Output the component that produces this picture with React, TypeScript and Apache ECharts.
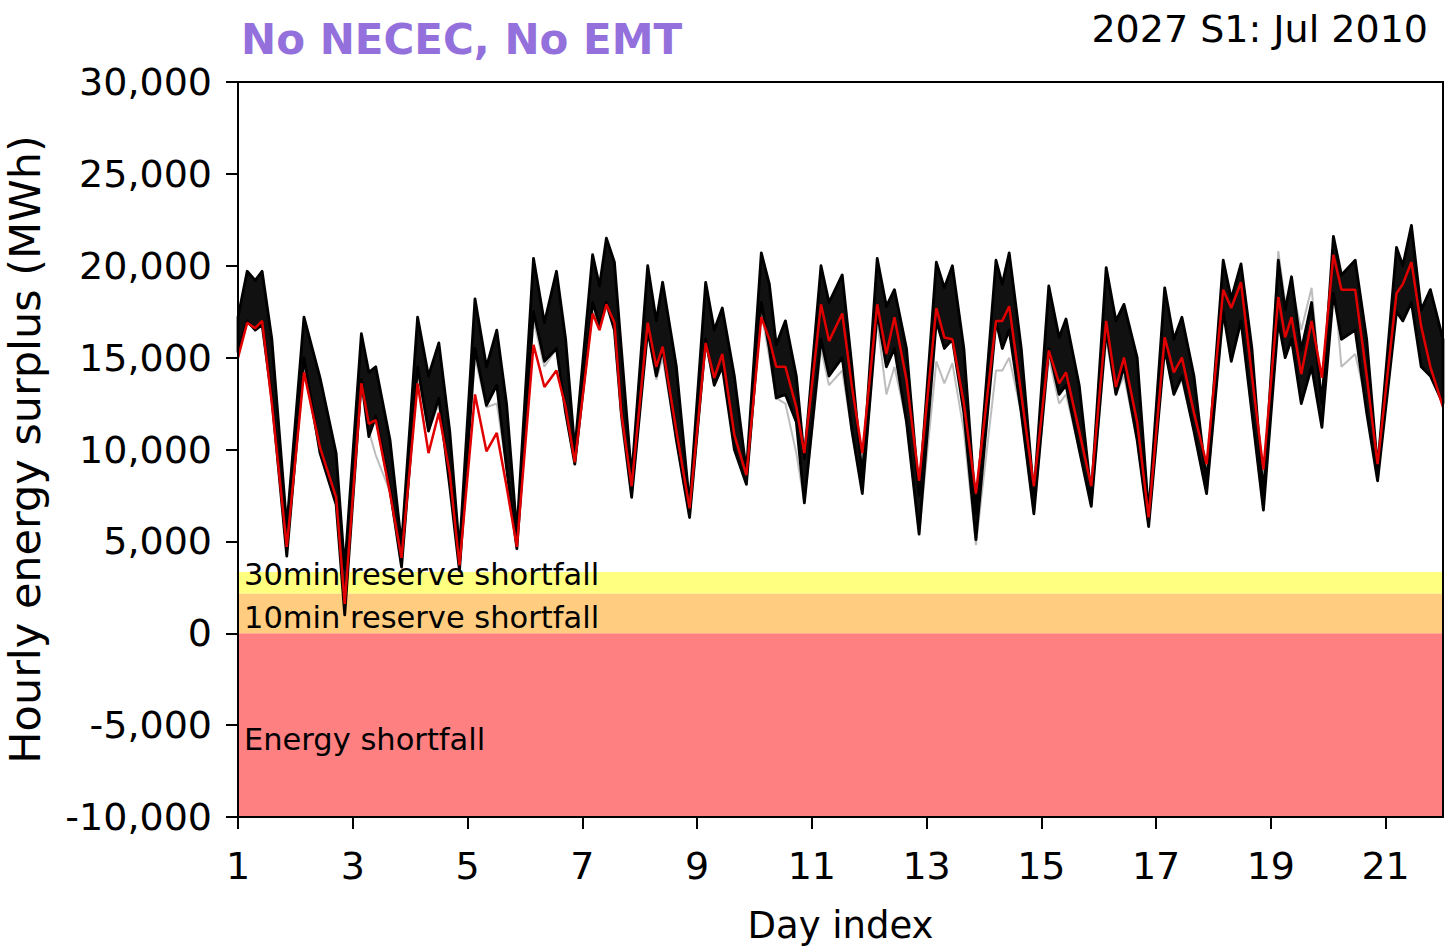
import React, { useEffect, useRef } from "react";
import * as echarts from "echarts";

// Day index positions of the read-off key points (peaks, dips, troughs)
const days = [
  1.0, 1.16, 1.3, 1.42, 1.59, 1.85,
  2.15, 2.43, 2.71, 2.86,
  3.15, 3.28, 3.4, 3.65, 3.85,
  4.13, 4.32, 4.5, 4.69, 4.86,
  5.13, 5.33, 5.51, 5.68, 5.86,
  6.15, 6.34, 6.55, 6.71, 6.87,
  7.18, 7.3, 7.42, 7.56, 7.68, 7.86,
  8.14, 8.29, 8.4, 8.64, 8.87,
  9.15, 9.3, 9.44, 9.65, 9.86,
  10.12, 10.26, 10.38, 10.54, 10.73, 10.87,
  11.16, 11.3, 11.53, 11.7, 11.88,
  12.14, 12.3, 12.44, 12.65, 12.87,
  13.17, 13.31, 13.45, 13.65, 13.86,
  14.21, 14.32, 14.44, 14.65, 14.87,
  15.13, 15.31, 15.43, 15.66, 15.87,
  16.13, 16.3, 16.44, 16.67, 16.87,
  17.15, 17.31, 17.45, 17.66, 17.88,
  18.17, 18.31, 18.48, 18.67, 18.87,
  19.13, 19.25, 19.36, 19.53, 19.71, 19.89,
  20.09, 20.23, 20.47, 20.67, 20.86,
  21.19, 21.3, 21.45, 21.62, 21.78, 22.0,
];

// Upper edge of the black ensemble of weather years (MWh)
const ensembleTop = [
  17200, 19700, 19200, 19700, 16000, 5800,
  17200, 13900, 9800, 3500,
  16300, 14200, 14500, 10500, 4800,
  17200, 14000, 15800, 11000, 4500,
  18200, 14500, 16500, 12500, 5500,
  20400, 16900, 19700, 16000, 10000,
  20600, 18900, 21500, 20200, 15500, 8500,
  20000, 17000, 19100, 14500, 7000,
  19100, 16500, 17700, 14000, 8800,
  20700, 19000, 15700, 17000, 14000, 9500,
  20000, 18000, 19500, 14500, 8500,
  20400, 17800, 18700, 15500, 7500,
  20200, 18800, 20000, 15500, 6500,
  20300, 19000, 20700, 15500, 7500,
  18900, 16100, 17100, 13500, 7500,
  19900, 17000, 17900, 15000, 6500,
  18800, 16000, 17200, 14000, 8200,
  20300, 18200, 20100, 15500, 7500,
  20300, 17600, 19400, 15400, 18000, 12500,
  21600, 19500, 20300, 16000, 9000,
  21000, 20000, 22200, 17600, 18700, 16000,
];

// Lower edge of the black ensemble (MWh)
const ensembleLow = [
  15300, 17000, 16500, 16800, 12800, 4200,
  15000, 9800, 7000, 1000,
  13800, 10700, 11800, 7800, 3600,
  14500, 11000, 12800, 8000, 3400,
  15500, 12400, 13500, 9000, 4600,
  17500, 14800, 15500, 12000, 9200,
  18000, 16800, 18000, 16500, 12000, 7400,
  16500, 14000, 15500, 10500, 6300,
  16000, 13500, 14500, 10000, 8100,
  18000, 15500, 12800, 13000, 11500, 7100,
  16000, 14000, 15000, 11000, 7600,
  17500, 14500, 15500, 11500, 5400,
  17000, 15500, 16000, 12000, 5100,
  17000, 15500, 16500, 12000, 6500,
  15500, 13000, 13500, 10000, 6900,
  16500, 13000, 14500, 10500, 5800,
  15500, 13000, 14000, 11000, 7600,
  17500, 14800, 17000, 12000, 6700,
  17000, 15000, 16000, 12500, 14500, 11200,
  18500, 16000, 16500, 12000, 8300,
  17500, 17000, 18000, 14500, 14000, 12500,
];

// Highlighted (red) run (MWh)
const redRun = [
  15000, 16900, 16600, 17000, 12500, 4700,
  14200, 10100, 7400, 1600,
  13600, 11400, 11600, 7600, 4100,
  13600, 9800, 12000, 8700, 3700,
  13000, 9900, 10900, 8000, 4700,
  15700, 13400, 14300, 12300, 9300,
  17400, 16500, 17900, 16900, 12000, 8000,
  16900, 14500, 15600, 11000, 6800,
  15800, 13900, 15200, 10800, 8600,
  17200, 16000, 14500, 14500, 12300, 9800,
  17900, 15900, 17400, 13400, 9800,
  17900, 15200, 17200, 13800, 8300,
  17700, 16100, 16000, 12500, 7600,
  17000, 17000, 17800, 13000, 8000,
  15400, 13600, 14200, 11000, 8000,
  17000, 13400, 15000, 11500, 6300,
  16100, 14200, 15000, 12000, 9200,
  18700, 17700, 19100, 14000, 8900,
  18300, 16100, 17200, 14100, 17000, 13900,
  20600, 18700, 18700, 14000, 9200,
  18500, 19000, 20200, 16700, 14500, 12300,
];

// Light grey outlier run (MWh)
const greyRun = [
  15200, 17000, 16700, 17000, 13000, 4300,
  14500, 9800, 7000, 1500,
  13800, 11000, 9700, 7700, 3700,
  14200, 11000, 12500, 8200, 3500,
  15000, 12300, 12500, 9000, 4800,
  17000, 14500, 15500, 12000, 9200,
  17500, 16500, 17800, 16500, 11500, 7400,
  16500, 13800, 15000, 10500, 6300,
  15800, 13500, 14500, 10300, 8100,
  17500, 15000, 12800, 12500, 9800, 7100,
  15500, 13500, 14300, 10900, 7800,
  17000, 13000, 14500, 11500, 5400,
  14800, 13600, 14700, 11000, 4800,
  14300, 14300, 15000, 12000, 6500,
  15000, 12500, 13000, 10000, 6900,
  16000, 13000, 14000, 10500, 5800,
  15500, 13000, 13800, 11000, 7600,
  17500, 15000, 17000, 12000, 6700,
  20800, 18000, 19000, 16500, 18800, 12500,
  19500, 14500, 15200, 12500, 8300,
  17800, 17300, 18500, 14500, 14000, 13000,
];

// Shortfall zones
const zoneNames = ["Energy shortfall", "10min reserve shortfall", "30min reserve shortfall"];
const zoneFrom = [-10000, 0, 2160];
const zoneTo = [0, 2160, 3340];

// Axis ticks
const xTicks = [1, 3, 5, 7, 9, 11, 13, 15, 17, 19, 21];
const xMin = 1;
const xMax = 22;
const yMin = -10000;
const yMax = 30000;
const yStep = 5000;

const zoneColors = ["#ff8080", "#ffcc80", "#ffff80"];
const zoneLabelOffsets = [
  [1, 14],
  [1, 4],
  [1, -8],
];

export default function App() {
  const ref = useRef<HTMLDivElement>(null);
  useEffect(() => {
    if (!ref.current) return;
    const chart = echarts.init(ref.current, null, { renderer: "svg" });
    const font = "DejaVu Sans";
    const pts = (ys: number[]) => days.map((d, i) => [d, ys[i]]);
    const black = { color: "#000", width: 2 };

    chart.setOption({
      animation: false,
      backgroundColor: "#fff",
      textStyle: { fontFamily: font },
      title: [
        {
          text: "No NECEC, No EMT",
          left: 236,
          top: 13,
          textStyle: { fontFamily: font, fontSize: 42, fontWeight: "bold", color: "#9370db" },
        },
        {
          text: "2027 S1: Jul 2010",
          right: 20,
          top: 5,
          textStyle: { fontFamily: font, fontSize: 38, fontWeight: "normal", color: "#000" },
        },
      ],
      grid: {
        left: 238,
        right: 10,
        top: 82,
        bottom: 131,
        containLabel: false,
        outerBoundsMode: "none",
      },
      xAxis: [
        {
          type: "value",
          min: xMin,
          max: xMax,
          position: "bottom",
          name: "Day index",
          nameLocation: "middle",
          nameGap: 90,
          nameTextStyle: { fontFamily: font, fontSize: 37, color: "#000" },
          axisLine: { show: true, onZero: false, lineStyle: black },
          axisTick: { show: true, length: 12, lineStyle: black, customValues: xTicks },
          axisLabel: { fontFamily: font, fontSize: 38, color: "#000", margin: 30, customValues: xTicks },
          splitLine: { show: false },
          z: 10,
        },
        {
          type: "value",
          min: xMin,
          max: xMax,
          position: "top",
          axisLine: { show: true, onZero: false, lineStyle: black },
          axisTick: { show: false },
          axisLabel: { show: false },
          splitLine: { show: false },
          z: 10,
        },
      ],
      yAxis: [
        {
          type: "value",
          min: yMin,
          max: yMax,
          interval: yStep,
          name: "Hourly energy surplus (MWh)",
          nameLocation: "middle",
          nameGap: 192,
          nameTextStyle: { fontFamily: font, fontSize: 43, color: "#000" },
          axisLine: { show: true, onZero: false, lineStyle: black },
          axisTick: { show: true, length: 12, lineStyle: black },
          axisLabel: {
            fontFamily: font,
            fontSize: 38,
            color: "#000",
            margin: 26,
            formatter: (v: number) => v.toLocaleString("en-US"),
          },
          splitLine: { show: false },
          z: 10,
        },
        {
          type: "value",
          min: yMin,
          max: yMax,
          interval: yStep,
          position: "right",
          axisLine: { show: true, onZero: false, lineStyle: black },
          axisTick: { show: false },
          axisLabel: { show: false },
          splitLine: { show: false },
          z: 10,
        },
      ],
      series: [
        {
          type: "line",
          name: "grey",
          data: pts(greyRun),
          symbol: "none",
          lineStyle: { color: "#bdbdbd", width: 2 },
          z: 2,
          markArea: {
            silent: true,
            z: 1,
            data: zoneNames.map((n, i) => [
              {
                name: n,
                yAxis: zoneFrom[i],
                itemStyle: { color: zoneColors[i] },
                label: {
                  show: true,
                  position: "insideLeft",
                  formatter: "{b}",
                  color: "#000",
                  fontFamily: font,
                  fontSize: 30.5,
                  offset: zoneLabelOffsets[i],
                },
              },
              { yAxis: zoneTo[i] },
            ]),
          },
        },
        {
          type: "custom",
          name: "ensemble",
          data: days.map((d, i) => [d, ensembleTop[i], ensembleLow[i]]),
          encode: { x: 0, y: [1, 2] },
          z: 3,
          renderItem: (params: any, api: any) => {
            if (params.dataIndex !== 0) return null;
            const upper = days.map((d, i) => api.coord([d, ensembleTop[i]]));
            const lower = days.map((d, i) => api.coord([d, ensembleLow[i]])).reverse();
            return {
              type: "polygon",
              shape: { points: upper.concat(lower) },
              style: { fill: "#111", stroke: "#000", lineWidth: 2.8, lineJoin: "round" },
            };
          },
        },
        {
          type: "line",
          name: "red",
          data: pts(redRun),
          symbol: "none",
          lineStyle: { color: "#e00000", width: 2.5 },
          z: 4,
        },
      ],
    });
    return () => chart.dispose();
  }, []);
  return (
    <div
      ref={ref}
      style={{ position: "fixed", left: 0, top: 0, width: 1453, height: 948, background: "#fff" }}
    />
  );
}
